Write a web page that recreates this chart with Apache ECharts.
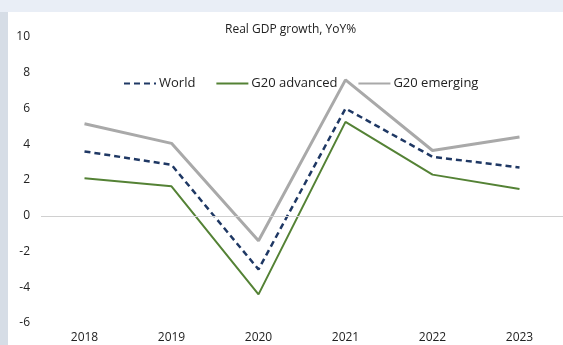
<!DOCTYPE html>
<html><head><meta charset="utf-8">
<script src="https://cdn.jsdelivr.net/npm/echarts@6/dist/echarts.min.js"></script>
<style>
html,body{margin:0;padding:0;width:563px;height:345px;overflow:hidden;background:#fff;}
#topband{position:absolute;left:0;top:0;width:563px;height:12px;background:#e9eef6;}
#leftband{position:absolute;left:0;top:12px;width:8px;height:333px;background:#d6dde6;}
#chart{position:absolute;left:0;top:0;width:563px;height:345px;}
</style></head>
<body>
<div id="topband"></div><div id="leftband"></div>
<div id="chart"></div>
<script>
const categories = ['2018','2019','2020','2021','2022','2023'];
const world = [3.6, 2.85, -3.0, 6.0, 3.3, 2.7];
const g20Advanced = [2.1, 1.65, -4.4, 5.25, 2.3, 1.5];
const g20Emerging = [5.15, 4.05, -1.4, 7.6, 3.65, 4.4];
const seriesNames = ['World', 'G20 advanced', 'G20 emerging'];
const titleText = 'Real GDP growth, YoY%';

const font = '"Open Sans", "Noto Sans", sans-serif';
const chart = echarts.init(document.getElementById('chart'), null, {renderer:'canvas'});
chart.setOption({
  animation:false,
  backgroundColor:'transparent',
  title:{text:titleText,left:220,top:19,textStyle:{fontFamily:font,fontSize:12,fontWeight:'normal',color:'#222'}},
  legend:{
    top:72,left:118,itemGap:20,itemWidth:32,itemHeight:14,
    data:seriesNames,
    itemStyle:{opacity:0},
    textStyle:{fontFamily:font,fontSize:13,color:'#222',padding:[0,0,0,-2]}
  },
  grid:{left:41,right:-4,top:37,bottom:22,containLabel:false},
  xAxis:{type:'category',data:categories,boundaryGap:true,
    axisLine:{show:false},axisTick:{show:false},
    axisLabel:{fontFamily:font,fontSize:12,color:'#222',margin:9}},
  yAxis:{type:'value',min:-6,max:10,interval:2,
    axisLine:{show:false},axisTick:{show:false},splitLine:{show:false},
    axisLabel:{fontFamily:font,fontSize:12,color:'#222',margin:11}},
  series:[
    {name:seriesNames[0],type:'line',data:world,symbol:'none',z:3,
      lineStyle:{color:'#1f3864',width:2.5,type:[6,4]},itemStyle:{color:'#1f3864'}},
    {name:seriesNames[1],type:'line',data:g20Advanced,symbol:'none',z:2,
      lineStyle:{color:'#548235',width:2},itemStyle:{color:'#548235'}},
    {name:seriesNames[2],type:'line',data:g20Emerging,symbol:'none',z:1,
      lineStyle:{color:'#a9a9a9',width:3},itemStyle:{color:'#a9a9a9'},
      markLine:{silent:true,symbol:'none',label:{show:false},
        lineStyle:{color:'#d0d0d0',width:1,type:'solid'},data:[{yAxis:0}]}}
  ]
});
</script>
</body></html>
